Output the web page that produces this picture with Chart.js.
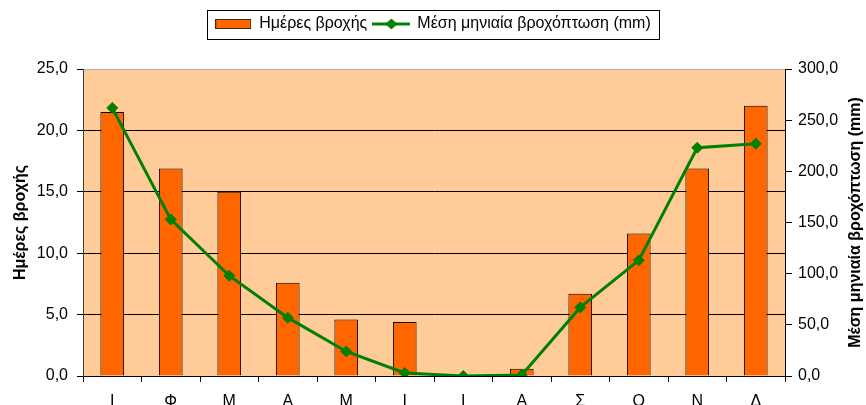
<!DOCTYPE html>
<html>
<head>
<meta charset="utf-8">
<script src="https://cdn.jsdelivr.net/npm/chart.js@4"></script>
<style>
  html, body { margin: 0; padding: 0; background: #fff; }
  canvas { display: block; }
</style>
</head>
<body>
<canvas id="rainChart" width="866" height="405"></canvas>
<script>
// ===== Rain chart: days of rain (bars) + mean monthly rainfall (line) =====

const MONTHS = ['Ι', 'Φ', 'Μ', 'Α', 'Μ', 'Ι', 'Ι', 'Α', 'Σ', 'Ο', 'Ν', 'Δ'];
const RAIN_DAYS = [21.5, 16.9, 15.0, 7.6, 4.6, 4.4, 0.0, 0.6, 6.7, 11.6, 16.9, 22.0];
const RAIN_MM = [262, 153, 98, 57, 24, 3, 0, 1, 67, 113, 223, 227];

const DAYS_LABEL = 'Ημέρες βροχής';
const MM_LABEL = 'Μέση μηνιαία βροχόπτωση (mm)';

const FONT = "'Liberation Sans', Arial, sans-serif";
const BAR_COLOR = '#FF6600';
const LINE_COLOR = '#008000';
const PLOT_BG = '#FFCC99';

const fmt = v => Number(v).toFixed(1).replace('.', ',');

// legend swatches drawn into small canvases, used as point styles
function barSwatch() {
  const c = document.createElement('canvas');
  c.width = 36; c.height = 10;
  const g = c.getContext('2d');
  g.fillStyle = BAR_COLOR;
  g.fillRect(0, 0, 36, 10);
  g.strokeStyle = '#3a2a1a';
  g.lineWidth = 1;
  g.strokeRect(0.5, 0.5, 35, 9);
  return c;
}

function lineSwatch() {
  const c = document.createElement('canvas');
  c.width = 38; c.height = 12;
  const g = c.getContext('2d');
  g.strokeStyle = LINE_COLOR;
  g.lineWidth = 3;
  g.beginPath(); g.moveTo(0, 6); g.lineTo(38, 6); g.stroke();
  g.fillStyle = LINE_COLOR;
  g.beginPath();
  g.moveTo(19, 0.5); g.lineTo(25, 6); g.lineTo(19, 11.5); g.lineTo(13, 6);
  g.closePath(); g.fill();
  return c;
}

const swatches = [barSwatch(), lineSwatch()];

// plot background, legend box, right axis title (reads bottom to top)
const decorPlugin = {
  id: 'decor',
  beforeInit(chart) {
    // push chart area down below the legend
    const origFit = chart.legend.fit;
    chart.legend.fit = function () {
      origFit.call(this);
      this.height += 27;
    };
  },
  beforeDraw(chart) {
    const { ctx, chartArea: a } = chart;
    ctx.save();
    ctx.fillStyle = PLOT_BG;
    ctx.fillRect(a.left, a.top, a.right - a.left, a.bottom - a.top);
    ctx.restore();
  },
  afterDraw(chart) {
    const ctx = chart.ctx;
    const a = chart.chartArea;
    const hb = chart.legend.legendHitBoxes;
    if (hb && hb.length) {
      const last = hb[hb.length - 1];
      const x0 = hb[0].left - 8, x1 = last.left + last.width + 8;
      const y0 = hb[0].top - 6, y1 = hb[0].top + hb[0].height + 7;
      ctx.save();
      ctx.strokeStyle = '#000';
      ctx.lineWidth = 1;
      ctx.strokeRect(Math.round(x0) + 0.5, Math.round(y0) + 0.5, Math.round(x1 - x0), Math.round(y1 - y0));
      ctx.restore();
    }
    const s = chart.scales.y1;
    ctx.save();
    ctx.translate(s.right - 10, (a.top + a.bottom) / 2);
    ctx.rotate(-Math.PI / 2);
    ctx.font = 'bold 16px ' + FONT;
    ctx.fillStyle = '#000';
    ctx.textAlign = 'center';
    ctx.textBaseline = 'middle';
    ctx.fillText(MM_LABEL, 0, 0);
    ctx.restore();
  }
};

const chart = new Chart(document.getElementById('rainChart').getContext('2d'), {
  type: 'bar',
  data: {
    labels: MONTHS,
    datasets: [{
      label: DAYS_LABEL,
      data: RAIN_DAYS,
      yAxisID: 'y',
      backgroundColor: BAR_COLOR,
      borderColor: '#000',
      borderWidth: 1,
      categoryPercentage: 1,
      barPercentage: 0.405,
      order: 1
    }, {
      type: 'line',
      label: MM_LABEL,
      data: RAIN_MM,
      yAxisID: 'y1',
      borderColor: LINE_COLOR,
      borderWidth: 3,
      backgroundColor: LINE_COLOR,
      pointStyle: 'rectRot',
      pointRadius: 5.5,
      pointBorderWidth: 1,
      pointBackgroundColor: LINE_COLOR,
      pointBorderColor: LINE_COLOR,
      tension: 0,
      fill: false,
      order: 0
    }]
  },
  options: {
    responsive: false,
    devicePixelRatio: 1,
    animation: false,
    layout: { padding: { top: 10, left: 0, right: 0, bottom: 0 } },
    plugins: {
      tooltip: { enabled: false },
      legend: {
        position: 'top',
        labels: {
          font: { family: FONT, size: 16 },
          color: '#000',
          padding: 6,
          usePointStyle: true,
          pointStyleWidth: 36,
          sort: (a, b) => a.datasetIndex - b.datasetIndex,
          generateLabels: ch => Chart.defaults.plugins.legend.labels.generateLabels(ch).map(item => {
            item.pointStyle = swatches[item.datasetIndex];
            return item;
          })
        }
      }
    },
    scales: {
      x: {
        grid: { drawOnChartArea: false, drawTicks: true, tickLength: 6, color: '#000' },
        border: { display: true, color: '#000' },
        ticks: { color: '#000', font: { family: FONT, size: 16 }, padding: 10, maxRotation: 0 },
        afterFit: s => { s.height = 29; }
      },
      y: {
        position: 'left',
        min: 0, max: 25,
        ticks: { stepSize: 5, color: '#000', font: { family: FONT, size: 16 }, padding: 9, callback: v => fmt(v) },
        grid: {
          color: c => (c.tick && c.tick.value === 25) ? '#b0b0b0' : '#000',
          tickColor: '#000',
          tickLength: 6
        },
        border: { display: true, color: '#404040' },
        title: { display: true, text: DAYS_LABEL, color: '#000', font: { family: FONT, size: 16, weight: 'bold' }, padding: { top: 11, bottom: 0 } },
        afterFit: s => { s.width = 83; }
      },
      y1: {
        position: 'right',
        min: 0, max: 300,
        ticks: { stepSize: 50, color: '#000', font: { family: FONT, size: 16 }, padding: 6, callback: v => fmt(v) },
        grid: { drawOnChartArea: false, tickLength: 7, color: '#000' },
        border: { display: true, color: '#000' },
        afterFit: s => { s.width = 81; }
      }
    }
  },
  plugins: [decorPlugin]
});
</script>
</body>
</html>
